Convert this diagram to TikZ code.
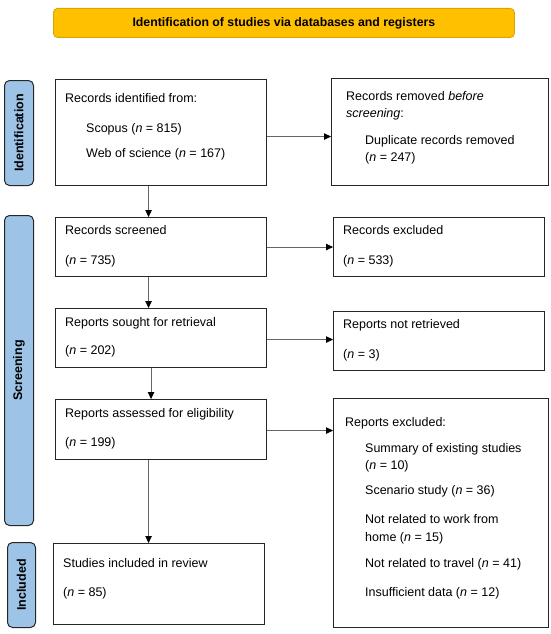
\documentclass[tikz,border=0pt]{standalone}
\usepackage{fontspec}
\setmainfont{Liberation Sans}
\usetikzlibrary{arrows.meta}
\definecolor{titlefill}{HTML}{FFC000}
\definecolor{titledraw}{HTML}{D9A300}
\definecolor{sidefill}{HTML}{9DC3E6}
\begin{document}
\begin{tikzpicture}[x=1pt,y=-1pt,
  font=\fontsize{12.5}{15}\selectfont,
  box/.style={draw=black!85, line width=1.1pt, rectangle, inner sep=0pt, anchor=north west},
  txt/.style={anchor=base west, inner sep=0pt, yshift=-4.5pt},
  side/.style={draw=black!85, fill=sidefill, line width=1pt, rounded corners=5pt, inner sep=0pt, anchor=north west},
  sidetxt/.style={rotate=90, font=\fontsize{12.5}{15}\selectfont\bfseries},
  arr/.style={draw=black!60, line width=0.8pt, -{Triangle[length=7pt,width=6.5pt,color=black]}},
]
\useasboundingbox (0,0) rectangle (550,634);

% title
\node[draw=titledraw, fill=titlefill, line width=0.8pt, rounded corners=4pt,
      minimum width=461pt, minimum height=29pt, anchor=north west,
      font=\fontsize{12.3}{15}\selectfont\bfseries] (title) at (53,8)
      {Identification of studies via databases and registers};

% side labels
\node[side, minimum width=29pt, minimum height=105pt] (sid) at (4,80) {};
\node[sidetxt] (sidt) at (sid.center) {Identification};
\node[side, minimum width=29pt, minimum height=310pt] (sscr) at (4,215) {};
\node[sidetxt] (sscrt) at (sscr.center) {Screening};
\node[side, minimum width=28pt, minimum height=85pt] (sinc) at (7,542) {};
\node[sidetxt] (sinct) at (sinc.center) {Included};

% left boxes
\node[box, minimum width=211pt, minimum height=106pt] (id) at (55,79) {};
\node[box, minimum width=211pt, minimum height=59pt] (scr) at (55,217) {};
\node[box, minimum width=211pt, minimum height=59pt] (sou) at (55,308) {};
\node[box, minimum width=211pt, minimum height=60pt] (ass) at (55,399) {};
\node[box, minimum width=211pt, minimum height=81pt] (inc) at (53,543) {};

% right boxes
\node[box, minimum width=217pt, minimum height=107pt] (rem) at (331,78) {};
\node[box, minimum width=211pt, minimum height=59pt] (exc) at (333,217) {};
\node[box, minimum width=211pt, minimum height=59pt] (ret) at (333,311) {};
\node[box, minimum width=215pt, minimum height=229pt] (rex) at (333,398) {};

% texts
\node[txt] (t1) at (65,98) {Records identified from:};
\node[txt] (t2) at (86,128) {Scopus (\textit{n} = 815)};
\node[txt] (t3) at (86,153) {Web of science (\textit{n} = 167)};

\node[txt] (t4) at (346,96) {Records removed \textit{before}};
\node[txt] (t5) at (346,113) {\textit{screening}:};
\node[txt] (t6) at (365,140) {Duplicate records removed};
\node[txt] (t7) at (365,157) {(\textit{n} = 247)};

\node[txt] (t8) at (65,230) {Records screened};
\node[txt] (t9) at (65,260) {(\textit{n} = 735)};
\node[txt] (t10) at (65,322) {Reports sought for retrieval};
\node[txt] (t11) at (65,350) {(\textit{n} = 202)};
\node[txt] (t12) at (65,413) {Reports assessed for eligibility};
\node[txt] (t13) at (65,442) {(\textit{n} = 199)};
\node[txt] (t14) at (63,563) {Studies included in review};
\node[txt] (t15) at (63,592) {(\textit{n} = 85)};

\node[txt] (t16) at (343,230) {Records excluded};
\node[txt] (t17) at (343,260) {(\textit{n} = 533)};
\node[txt] (t18) at (343,324) {Reports not retrieved};
\node[txt] (t19) at (343,354) {(\textit{n} = 3)};

\node[txt] (t20) at (345,422) {Reports excluded:};
\node[txt] (t21) at (365,448) {Summary of existing studies};
\node[txt] (t22) at (365,465) {(\textit{n} = 10)};
\node[txt] (t23) at (365,490) {Scenario study (\textit{n} = 36)};
\node[txt] (t24) at (365,519) {Not related to work from};
\node[txt] (t25) at (365,537) {home (\textit{n} = 15)};
\node[txt] (t26) at (365,563) {Not related to travel (\textit{n} = 41)};
\node[txt] (t27) at (365,592) {Insufficient data (\textit{n} = 12)};

% vertical arrows
\draw[arr] ([xshift=-12.5pt]id.south) -- ([xshift=-12.5pt]scr.north);
\draw[arr] ([xshift=-12.5pt]scr.south) -- ([xshift=-12.5pt]sou.north);
\draw[arr] ([xshift=-10pt]sou.south) -- ([xshift=-10pt]ass.north);
\draw[arr] ([xshift=-12.5pt]ass.south) -- ([xshift=-12.5pt]ass.south |- inc.north);

% horizontal arrows
\draw[arr] ([yshift=-4pt]id.east) -- ([yshift=-4pt]id.east -| rem.west);
\draw[arr] (scr.east) -- (scr.east -| exc.west);
\draw[arr] ([yshift=-1.5pt]sou.east) -- ([yshift=-1.5pt]sou.east -| ret.west);
\draw[arr] ([yshift=-1pt]ass.east) -- ([yshift=-1pt]ass.east -| rex.west);
\end{tikzpicture}
\end{document}
